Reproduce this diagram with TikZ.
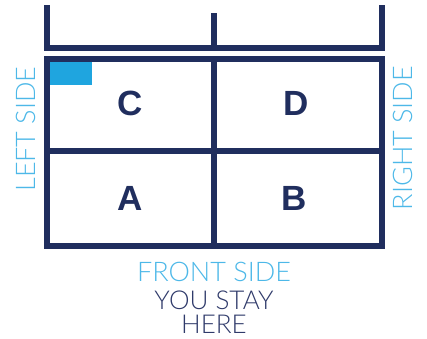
\documentclass[tikz,border=0pt]{standalone}
\usepackage{fontspec}
\setmainfont{Liberation Sans}
\newfontfamily\lightfont{Lato Light}
\definecolor{navy}{HTML}{202E5E}
\definecolor{skyblue}{HTML}{4DB8E8}
\definecolor{boxblue}{HTML}{1FA5DF}
\definecolor{textnavy}{HTML}{2F3A6A}
\begin{document}
\begin{tikzpicture}[x=1pt,y=-1pt,
  wall/.style={draw=navy,line width=5.5pt},
  cell/.style={font=\bfseries\fontsize{35}{35}\selectfont,text=navy,inner sep=0pt},
  side/.style={font=\lightfont\fontsize{27}{27}\selectfont,text=skyblue,inner sep=0pt},
  note/.style={font=\lightfont\fontsize{26}{26}\selectfont,text=textnavy,inner sep=0pt,anchor=base}]
\useasboundingbox (0,0) rectangle (427,338);
% top bracket
\coordinate (tl) at (47,5);
\coordinate (tm) at (214,13);
\coordinate (tr) at (382,5);
\coordinate (bl) at (47,48);
\coordinate (bm) at (214,48);
\coordinate (br) at (382,48);
\draw[wall] (tl) -- (bl) -- (br) -- (tr);
\draw[wall] (tm) -- (bm);
% main box
\draw[wall] (47,59) rectangle (382,246);
\draw[wall] (214,59) -- (214,246);
\draw[wall] (47,151) -- (382,151);
\fill[boxblue] (50,61.7) rectangle (92,85);
% cells
\node[cell] (c) at (130,103) {C};
\node[cell] (d) at (296,103) {D};
\node[cell] (a) at (130,198) {A};
\node[cell] (b) at (294,198) {B};
% labels
\node[side,rotate=90] (left) at (26,129) {LEFT SIDE};
\node[side,rotate=90] (right) at (403,138) {RIGHT SIDE};
\node[side,anchor=base] (front) at (214,281) {FRONT SIDE};
\node[note] (stay) at (214,309.5) {YOU STAY};
\node[note] (here) at (214,333.5) {HERE};
\end{tikzpicture}
\end{document}
